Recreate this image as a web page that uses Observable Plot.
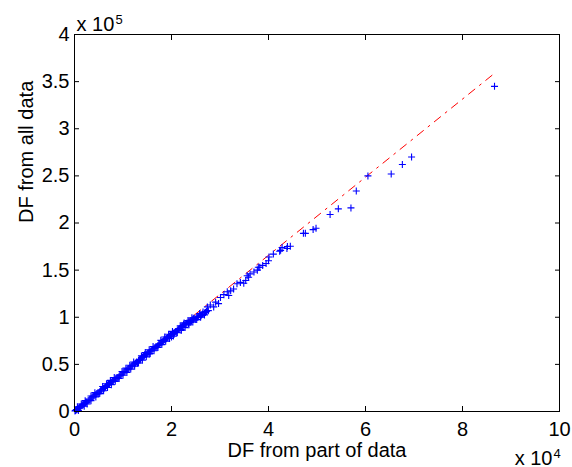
<!DOCTYPE html>
<html>
<head>
<meta charset="utf-8">
<script src="https://cdn.jsdelivr.net/npm/d3@7"></script>
<script src="https://cdn.jsdelivr.net/npm/@observablehq/plot@0.6"></script>
<style>
  html, body { margin: 0; padding: 0; background: #fff; }
  #chart svg { display: block; }
</style>
</head>
<body>
<div id="chart"></div>
<script>
// Values in displayed units: x in 10^4, y in 10^5
const partX = [
  0.01,0.02,0.03,0.05,0.07,0.09,0.12,0.15,0.18,0.21,0.25,0.28,0.32,0.36,0.40,0.44,0.48,0.52,0.56,0.60,
  0.64,0.68,0.72,0.76,0.80,0.84,0.88,0.92,0.96,1.00,1.04,1.08,1.12,1.16,1.20,1.24,1.28,1.32,1.36,1.40,
  1.44,1.48,1.52,1.56,1.60,1.64,1.68,1.72,1.76,1.80,1.84,1.88,1.92,1.96,2.00,2.04,2.08,2.12,2.16,2.20,
  2.24,2.28,2.32,2.36,2.40,2.44,2.48,2.52,2.56,2.60,2.64,2.68,
  0.04,0.10,0.17,0.23,0.30,0.38,0.46,0.54,0.62,0.70,0.78,0.86,0.94,1.02,1.10,1.18,1.26,1.34,1.42,1.50,
  1.58,1.66,1.74,1.82,1.90,1.98,2.06,2.14,2.22,2.30,2.38,2.46,2.54,2.62,2.70,2.72,2.76,
  0.50,0.90,1.30,1.70,2.10,2.50,1.55,1.95,2.35,2.00,2.20,2.40,2.60,1.45,1.85,2.25,2.45,2.65,
  0.06,0.14,0.22,0.34,0.42,0.58,0.66,0.74,0.82,0.98,1.06,1.14,1.22,1.38,1.46,1.54,1.62,1.78,1.86,1.94,
  2.02,2.18,2.26,2.34,2.42,2.58,
  0.08,0.20,0.26,0.34,0.44,0.52,0.60,0.68,0.76,0.84,0.92,1.00,1.08,1.16,1.24,1.32,1.40,1.48,1.56,1.64,
  1.72,1.80,1.88,1.96,2.04,2.12,2.20,2.28,2.36,2.44,2.52,2.60,2.68,
  2.74,2.80,2.87,2.91,2.97,3.01,3.08,3.15,3.18,3.22,3.28,3.35,3.42,3.49,3.53,3.56,3.59,3.62,3.70,3.77,
  3.79,3.82,3.88,3.95,4.00,4.01,4.10,4.23,4.25,4.28,4.38,4.39,4.45,4.72,4.76,4.92,4.98,5.27,5.44,5.70,
  5.81,6.05,6.53,6.76,6.95,8.66
];
const allY = [
  0.005,0.01,0.012,0.02,0.03,0.035,0.05,0.06,0.075,0.085,0.10,0.115,0.13,0.145,0.165,0.18,0.195,0.21,0.23,0.245,
  0.26,0.28,0.295,0.31,0.325,0.345,0.36,0.375,0.39,0.41,0.425,0.44,0.455,0.475,0.49,0.505,0.525,0.54,0.555,0.575,
  0.59,0.605,0.62,0.64,0.655,0.67,0.69,0.70,0.72,0.735,0.75,0.77,0.785,0.80,0.815,0.83,0.85,0.865,0.88,0.895,
  0.91,0.93,0.94,0.955,0.965,0.975,0.99,1.00,1.01,1.02,1.035,1.045,
  0.02,0.045,0.065,0.10,0.12,0.16,0.19,0.225,0.25,0.29,0.32,0.355,0.385,0.42,0.45,0.485,0.515,0.55,0.585,0.615,
  0.645,0.68,0.71,0.74,0.775,0.81,0.835,0.87,0.90,0.925,0.945,0.98,1.00,1.025,1.05,1.06,1.07,
  0.19,0.355,0.515,0.68,0.84,0.975,0.61,0.78,0.935,0.79,0.87,0.95,1.01,0.605,0.765,0.925,0.99,1.055,
  0.05,0.08,0.115,0.165,0.20,0.265,0.295,0.33,0.36,0.425,0.46,0.49,0.525,0.59,0.625,0.655,0.69,0.755,0.79,0.82,
  0.85,0.91,0.94,0.965,0.995,1.04,
  0.01,0.055,0.08,0.115,0.155,0.19,0.22,0.255,0.285,0.32,0.35,0.385,0.415,0.45,0.48,0.515,0.545,0.58,0.615,0.645,
  0.68,0.71,0.745,0.775,0.80,0.835,0.86,0.89,0.92,0.95,0.975,1.00,1.025,
  1.11,1.13,1.11,1.16,1.145,1.21,1.24,1.27,1.23,1.28,1.30,1.355,1.37,1.36,1.39,1.44,1.425,1.46,1.48,1.50,
  1.53,1.53,1.55,1.57,1.60,1.64,1.67,1.70,1.71,1.74,1.73,1.75,1.754,1.89,1.89,1.93,1.945,2.09,2.15,2.16,
  2.34,2.50,2.52,2.62,2.70,3.45
];
const fitX = [0, 8.64];
const fitY = [0, 3.58];
const xTicks = [0, 2, 4, 6, 8, 10];
const yTicks = [0, 0.5, 1, 1.5, 2, 2.5, 3, 3.5, 4];
const xTickLabels = ["0", "2", "4", "6", "8", "10"];
const yTickLabels = ["0", "0.5", "1", "1.5", "2", "2.5", "3", "3.5", "4"];
const xLabel = "DF from part of data";
const yLabel = "DF from all data";

const points = partX.map((x, i) => ({x, y: allY[i]}));
const fit = fitX.map((x, i) => ({x, y: fitY[i]}));

const plusSymbol = {
  draw(context, size) {
    const r = Math.sqrt(size / Math.PI);
    context.moveTo(-r, 0); context.lineTo(r, 0);
    context.moveTo(0, -r); context.lineTo(0, r);
  }
};

const font = "'Liberation Sans', Arial, Helvetica, sans-serif";
const fs = 20;

const chart = Plot.plot({
  width: 572,
  height: 467,
  marginLeft: 74,
  marginRight: 13,
  marginTop: 34,
  marginBottom: 56,
  style: {fontFamily: font, fontSize: fs + "px", background: "#fff", color: "#000", overflow: "visible"},
  x: {domain: [0, 10]},
  y: {domain: [0, 4]},
  marks: [
    Plot.line(fit, {x: "x", y: "y", stroke: "#ff0000", strokeWidth: 1, strokeDasharray: "8,6,2,6"}),
    Plot.dot(points, {x: "x", y: "y", symbol: plusSymbol, r: 3.5, stroke: "#0000ff", fill: "none", strokeWidth: 1.1}),
    Plot.frame({stroke: "#000", strokeWidth: 1}),
    // inward ticks on all four sides
    Plot.axisX({ticks: xTicks, anchor: "bottom", tickSize: -5, tickFormat: () => "", label: null, stroke: "#000"}),
    Plot.axisX({ticks: xTicks, anchor: "top", tickSize: -5, tickFormat: () => "", label: null, stroke: "#000"}),
    Plot.axisY({ticks: yTicks, anchor: "left", tickSize: -5, tickFormat: () => "", label: null, stroke: "#000"}),
    Plot.axisY({ticks: yTicks, anchor: "right", tickSize: -5, tickFormat: () => "", label: null, stroke: "#000"}),
    // tick labels
    Plot.axisX({ticks: xTicks, anchor: "bottom", tickSize: 0, tickPadding: 10, tickFormat: (d) => xTickLabels[xTicks.indexOf(d)], label: null, fontSize: fs, fill: "#000"}),
    Plot.axisY({ticks: yTicks, anchor: "left", tickSize: 0, tickPadding: 5, tickFormat: (d) => yTickLabels[yTicks.indexOf(d)], label: null, fontSize: fs, fill: "#000"}),
    // axis titles
    Plot.text([xLabel], {frameAnchor: "bottom", text: (d) => d, dy: 45, lineAnchor: "bottom", fontSize: fs, fill: "#000"}),
    Plot.text([yLabel], {frameAnchor: "left", text: (d) => d, dx: -42, rotate: -90, lineAnchor: "bottom", fontSize: fs, fill: "#000"}),
    // exponent multipliers
    Plot.text(["x 10"], {frameAnchor: "top-left", text: (d) => d, textAnchor: "start", lineAnchor: "bottom", dx: 2, dy: -4, fontSize: fs, fill: "#000"}),
    Plot.text(["5"], {frameAnchor: "top-left", text: (d) => d, textAnchor: "start", lineAnchor: "bottom", dx: 41, dy: -11, fontSize: 13, fill: "#000"}),
    Plot.text(["x 10"], {frameAnchor: "bottom-right", text: (d) => d, textAnchor: "end", lineAnchor: "bottom", dx: -7, dy: 53, fontSize: fs, fill: "#000"}),
    Plot.text(["4"], {frameAnchor: "bottom-right", text: (d) => d, textAnchor: "start", lineAnchor: "bottom", dx: -6, dy: 46, fontSize: 13, fill: "#000"})
  ]
});
document.getElementById("chart").appendChild(chart);
</script>
</body>
</html>
